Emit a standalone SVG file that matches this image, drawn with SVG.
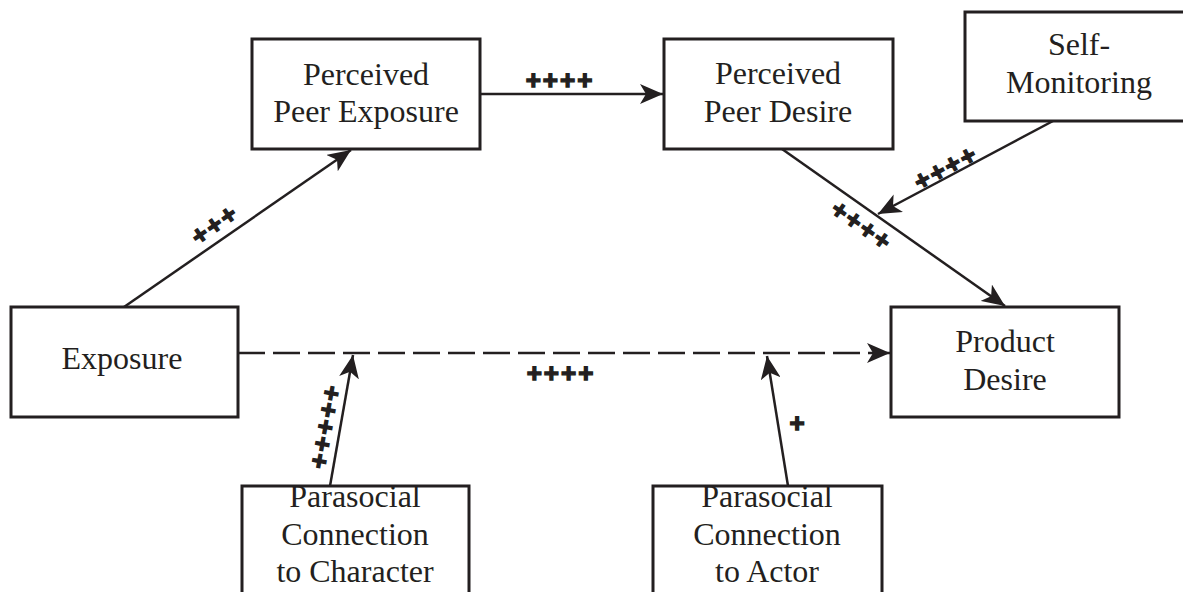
<svg xmlns="http://www.w3.org/2000/svg" width="1183" height="592" viewBox="0 0 1183 592">
  <defs>
    <style>
      .box { fill: #ffffff; stroke: #231f20; stroke-width: 3; }
      .lbl { font-family: "Liberation Serif", "Times New Roman", serif; font-size: 32px; fill: #231f20; text-anchor: middle; }
      .edge { fill: none; stroke: #231f20; stroke-width: 2.5; marker-end: url(#head); }
      .dash { stroke-dasharray: 27 8; }
      .sign { font-family: "Liberation Sans", Arial, sans-serif; font-weight: bold; font-size: 26px; letter-spacing: 2px; fill: #231f20; stroke: #231f20; stroke-width: 1.4; text-anchor: middle; }
    </style>
    <marker id="head" viewBox="0 0 23 20" refX="23" refY="10" markerWidth="23" markerHeight="20" markerUnits="userSpaceOnUse" orient="auto">
      <path d="M0,0 L23,10 L0,20 L6,10 Z" fill="#231f20"/>
    </marker>
  </defs>
  <rect width="1183" height="592" fill="#ffffff"/>

  <!-- connectors -->
  <g id="connectors">
    <line class="edge" x1="124" y1="307" x2="351" y2="150"/>
    <line class="edge" x1="480" y1="94" x2="663" y2="94"/>
    <line class="edge" x1="782" y1="149" x2="1005" y2="306"/>
    <line class="edge" x1="1053" y1="121" x2="878" y2="214"/>
    <line class="edge dash" x1="238" y1="353" x2="890" y2="353"/>
    <line class="edge" x1="330" y1="486" x2="353" y2="355"/>
    <line class="edge" x1="788" y1="486" x2="767" y2="356"/>

    <!-- effect strength marks -->
    <g transform="translate(214 225) rotate(-35)"><text class="sign" x="1" y="9">+++</text></g>
    <text class="sign" x="560" y="89">++++</text>
    <g transform="translate(945 168) rotate(-28)"><text class="sign" x="1" y="9">++++</text></g>
    <g transform="translate(861 225) rotate(35)"><text class="sign" x="1" y="9">++++</text></g>
    <text class="sign" x="561" y="382">++++</text>
    <g transform="translate(325 427) rotate(-80)"><text class="sign" x="1" y="9">+++++</text></g>
    <text class="sign" x="798" y="432">+</text>
  </g>

  <g id="perceived-peer-exposure">
    <rect class="box" x="252" y="39" width="228" height="110"/>
    <text class="lbl" x="366" y="85">Perceived</text>
    <text class="lbl" x="366" y="122">Peer Exposure</text>
  </g>

  <g id="perceived-peer-desire">
    <rect class="box" x="664" y="39" width="229" height="110"/>
    <text class="lbl" x="778" y="84">Perceived</text>
    <text class="lbl" x="778" y="122">Peer Desire</text>
  </g>

  <g id="self-monitoring">
    <rect class="box" x="965" y="12" width="230" height="109"/>
    <text class="lbl" x="1079" y="55">Self-</text>
    <text class="lbl" x="1079" y="93">Monitoring</text>
  </g>

  <g id="exposure">
    <rect class="box" x="11" y="307" width="227" height="110"/>
    <text class="lbl" x="122" y="369">Exposure</text>
  </g>

  <g id="product-desire">
    <rect class="box" x="891" y="307" width="228" height="110"/>
    <text class="lbl" x="1005" y="352">Product</text>
    <text class="lbl" x="1005" y="390">Desire</text>
  </g>

  <g id="parasocial-character">
    <rect class="box" x="242" y="486" width="227" height="120"/>
    <text class="lbl" x="355" y="507">Parasocial</text>
    <text class="lbl" x="355" y="545">Connection</text>
    <text class="lbl" x="355" y="582">to Character</text>
  </g>

  <g id="parasocial-actor">
    <rect class="box" x="653" y="486" width="229" height="120"/>
    <text class="lbl" x="767" y="507">Parasocial</text>
    <text class="lbl" x="767" y="545">Connection</text>
    <text class="lbl" x="767" y="582">to Actor</text>
  </g>
</svg>
